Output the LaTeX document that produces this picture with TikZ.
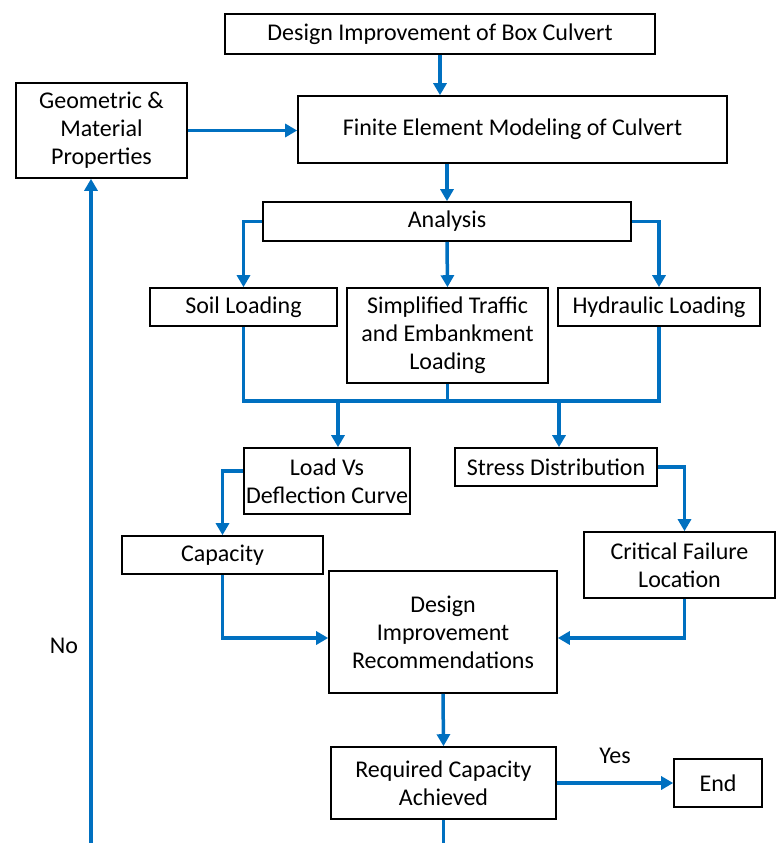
\documentclass[tikz,border=0pt]{standalone}
\usepackage{fontspec}
\setmainfont{Carlito}
\usetikzlibrary{arrows.meta}
\definecolor{flowblue}{RGB}{0,112,192}

\begin{document}
\begin{tikzpicture}
[x=1pt,y=-1pt,
 box/.style={draw,line width=1.6pt,align=center,inner sep=0pt,font=\fontsize{24}{28}\selectfont},
 lbl/.style={font=\fontsize{24}{28}\selectfont},
 link/.style={draw=flowblue,line width=3.5pt},
 arr/.style={link,-{Triangle[length=12pt,width=13pt]}}]
\useasboundingbox (0,0) rectangle (776,843);

\node[box,minimum width=430pt,minimum height=40pt] (top) at (440,34) {Design Improvement of Box Culvert};
\node[box,minimum width=429pt,minimum height=67pt] (fem) at (512.5,129.5) {Finite Element Modeling of Culvert};
\node[box,minimum width=171pt,minimum height=95pt] (geo) at (101.5,130.5) {Geometric \&\\Material\\Properties};
\node[box,minimum width=368pt,minimum height=39pt] (ana) at (447,221.5) {Analysis};

\node[box,minimum width=187pt,minimum height=38pt] (soil) at (243.5,307) {Soil Loading};
\node[box,minimum width=201pt,minimum height=95pt] (simp) at (447.5,335.5) {Simplified Traffic\\and Embankment\\Loading};
\node[box,minimum width=202pt,minimum height=38pt] (hyd) at (659,307) {Hydraulic Loading};

\node[box,minimum width=166pt,minimum height=66pt] (load) at (327,481) {Load Vs\\Deflection Curve};
\node[box,minimum width=202pt,minimum height=38pt] (stress) at (556,467) {Stress Distribution};
\node[box,minimum width=201pt,minimum height=38pt] (cap) at (222.5,555) {Capacity};
\node[box,minimum width=191pt,minimum height=66pt] (crit) at (679.5,565) {Critical Failure\\Location};

\node[box,minimum width=228pt,minimum height=122pt] (rec) at (443,632) {Design\\Improvement\\Recommendations};
\node[box,minimum width=225pt,minimum height=72pt] (req) at (443.5,783) {Required Capacity\\Achieved};
\node[box,minimum width=88pt,minimum height=48pt] (end) at (718,783) {End};

\node[lbl] (yes) at (615,756) {Yes};
\node[lbl] (no) at (64,646) {No};

\coordinate (bus) at (0,401);
\coordinate (busL) at (338,401);
\coordinate (busR) at (559,401);
\coordinate (loopL) at (91,843);
\coordinate (loopR) at (443,843);

\draw[arr] (top.south) -- (top.south|-fem.north);
\draw[arr] (geo.east) -- (geo.east-|fem.west);
\draw[arr] (ana.north|-fem.south) -- (ana.north);

\draw[arr] (ana.west) -| (soil.north);
\draw[arr] (ana.south) -- (simp.north);
\draw[arr] (ana.east) -| (hyd.north);

\draw[link] (soil.south) -- (soil.south|-bus) -- (hyd.south|-bus) -- (hyd.south);
\draw[link] (simp.south) -- (simp.south|-bus);
\draw[arr] (busL) -- (busL|-load.north);
\draw[arr] (busR) -- (busR|-stress.north);

\draw[arr] ([yshift=10pt]load.west) -| (cap.north);
\draw[arr] (stress.east) -| ([xshift=5pt]crit.north);
\draw[arr] (cap.south) |- ([yshift=-6pt]rec.west);
\draw[arr] ([xshift=5pt]crit.south) |- ([yshift=-6pt]rec.east);

\draw[arr] (rec.south) -- (req.north);
\draw[arr] (req.east) -- (end.west);
\draw[link] (req.south) -- (req.south|-loopR);
\draw[arr] (loopL) -- (loopL|-geo.south);
\end{tikzpicture}
\end{document}
